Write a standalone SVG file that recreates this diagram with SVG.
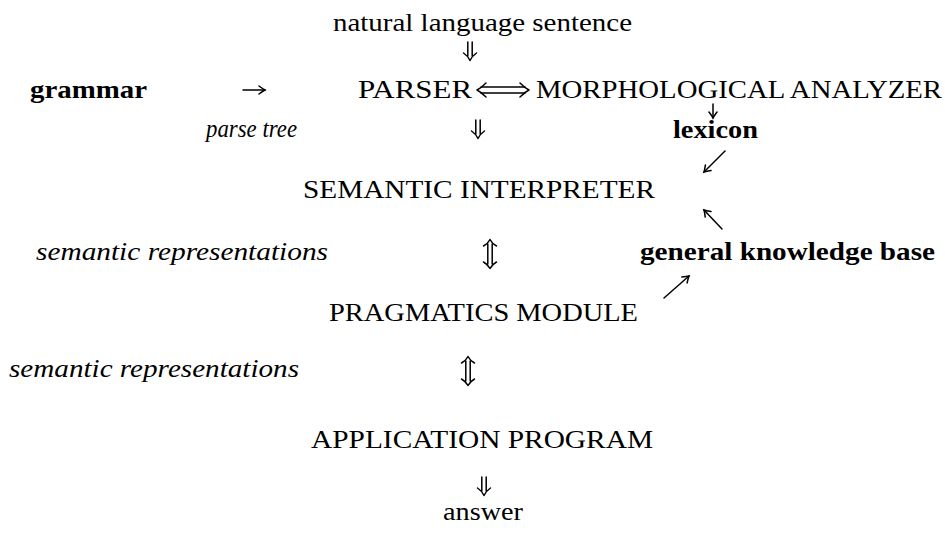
<svg xmlns="http://www.w3.org/2000/svg" width="945" height="534" viewBox="0 0 945 534">
<style>
text{font-family:"Liberation Serif","Times New Roman",serif;font-size:26px;fill:#000}
.b{font-weight:bold}
.i{font-style:italic}
.ln{fill:none;stroke:#000;stroke-width:1.5;stroke-linecap:round;stroke-linejoin:round}
</style>
<defs>
<marker id="ah" viewBox="-8 -5 10 10" refX="0" refY="0" markerWidth="10" markerHeight="10" markerUnits="userSpaceOnUse" orient="auto">
<path d="M-6,-4 Q-2,-1 0,0 Q-2,1 -6,4" fill="none" stroke="#000" stroke-width="1.5" stroke-linecap="round"/>
</marker>
<g id="dd" class="ln">
<path d="M-2.2,-9 V5 M2.2,-9 V5"/>
<path d="M-6.5,2 Q-2,5 0,9.5 Q2,5 6.5,2"/>
</g>
<g id="ud" class="ln">
<path d="M-2.2,-10 V10 M2.2,-10 V10"/>
<path d="M-6.5,-8 Q-2,-10.5 0,-14.5 Q2,-10.5 6.5,-8"/>
<path d="M-6.5,8 Q-2,10.5 0,14.5 Q2,10.5 6.5,8"/>
</g>
</defs>

<g id="n-input"><text x="333" y="31" textLength="299" lengthAdjust="spacingAndGlyphs">natural language sentence</text></g>
<g id="n-grammar"><text class="b" x="30" y="98" textLength="117" lengthAdjust="spacingAndGlyphs">grammar</text></g>
<g id="n-parser"><text x="358" y="98" textLength="114" lengthAdjust="spacingAndGlyphs">PARSER</text></g>
<g id="n-morph"><text x="536" y="98" textLength="406" lengthAdjust="spacingAndGlyphs">MORPHOLOGICAL ANALYZER</text></g>
<g id="n-parsetree"><text class="i" x="206" y="137" textLength="91" lengthAdjust="spacingAndGlyphs">parse tree</text></g>
<g id="n-lexicon"><text class="b" x="673" y="138" textLength="85" lengthAdjust="spacingAndGlyphs">lexicon</text></g>
<g id="n-semantic"><text x="303" y="198" textLength="352" lengthAdjust="spacingAndGlyphs">SEMANTIC INTERPRETER</text></g>
<g id="n-semrep1"><text class="i" x="36" y="260" textLength="292" lengthAdjust="spacingAndGlyphs">semantic representations</text></g>
<g id="n-gkb"><text class="b" x="640" y="260" textLength="295" lengthAdjust="spacingAndGlyphs">general knowledge base</text></g>
<g id="n-pragmatics"><text x="329" y="321" textLength="309" lengthAdjust="spacingAndGlyphs">PRAGMATICS MODULE</text></g>
<g id="n-semrep2"><text class="i" x="9" y="377" textLength="290" lengthAdjust="spacingAndGlyphs">semantic representations</text></g>
<g id="n-application"><text x="311" y="448" textLength="342" lengthAdjust="spacingAndGlyphs">APPLICATION PROGRAM</text></g>
<g id="n-answer"><text x="443" y="520" textLength="80" lengthAdjust="spacingAndGlyphs">answer</text></g>

<g id="connectors">
<use href="#dd" x="470" y="51"/>
<path class="ln" d="M243,90 H265" marker-end="url(#ah)"/>
<path class="ln" d="M481,87 H525 M481,93 H525"/>
<path class="ln" d="M486,83 Q481,88 477,90 Q481,92 486,97 M520,83 Q525,88 529,90 Q525,92 520,97"/>
<path class="ln" d="M713,104 V118" marker-end="url(#ah)"/>
<use href="#dd" x="478" y="129"/>
<path class="ln" d="M725,151 L704,172" marker-end="url(#ah)"/>
<path class="ln" d="M722,229 L704,210" marker-end="url(#ah)"/>
<use href="#ud" x="490" y="254"/>
<path class="ln" d="M664,298 L689,276" marker-end="url(#ah)"/>
<use href="#ud" x="468" y="371"/>
<use href="#dd" x="484" y="486"/>
</g>
</svg>
